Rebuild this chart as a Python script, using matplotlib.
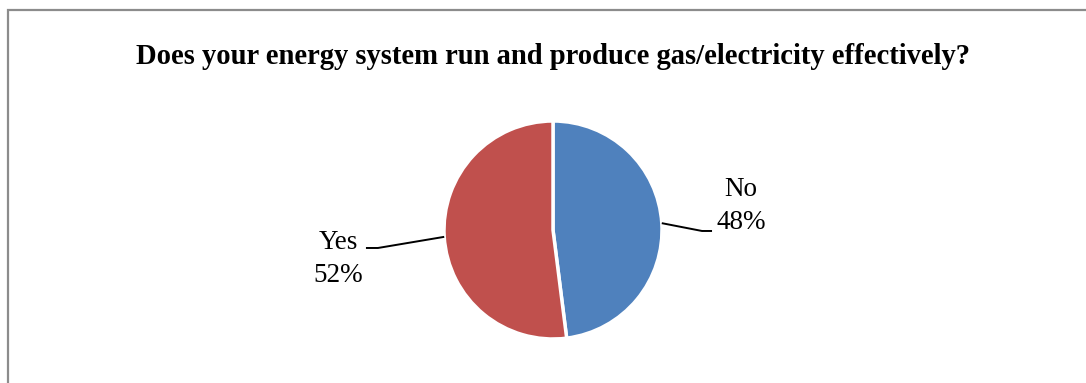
import numpy as np
import matplotlib.pyplot as plt
from matplotlib.patches import Rectangle

# survey answers
labels = ["No", "Yes"]
shares = [48, 52]
colors = ["#4F81BD", "#C0504D"]
title = "Does your energy system run and produce gas/electricity effectively?"

W, H = 1086, 383
plt.rcParams['font.family'] = ['Liberation Serif', 'DejaVu Serif']

fig = plt.figure(figsize=(W / 100, H / 100), dpi=100)

# chart frame, runs off the right and bottom edges
fig.patches.append(Rectangle((7.5 / W, -0.05), 1.1, 1 - 10.5 / H + 0.05,
                             transform=fig.transFigure, fill=False,
                             edgecolor="#8c8c8c", linewidth=1.6))

fig.text(553 / W, 1 - 56 / H, title, ha="center", va="center",
         fontsize=20.6, fontweight="bold")

# pie: centre (553, 230) px, radius 109 px
cx, cy, r = 553, 230, 109
ax = fig.add_axes([(cx - r) / W, (H - cy - r) / H, 2 * r / W, 2 * r / H])
ax.pie(shares, colors=colors, startangle=90, counterclock=False,
       wedgeprops=dict(edgecolor="white", linewidth=2.5))
ax.set_xlim(-1, 1)
ax.set_ylim(-1, 1)
ax.axis("off")

# leader lines and labels
total = sum(shares)
start = 90.0
elbows = {"No": (1.367, -0.009, 1.459), "Yes": (-1.606, -0.165, -1.716)}
textpos = {"No": (1.725, 0.367, 0.073), "Yes": (-1.97, -0.119, -0.413)}
for lab, val in zip(labels, shares):
    sweep = 360.0 * val / total
    mid = np.radians(start - sweep / 2)
    start -= sweep
    x0, y0 = np.cos(mid), np.sin(mid)
    ex, ey, hx = elbows[lab]
    ax.plot([x0, ex, hx], [y0, ey, ey], color="black", lw=1.4,
            clip_on=False, solid_capstyle="butt")
    tx, ty1, ty2 = textpos[lab]
    ax.text(tx, ty1, lab, ha="center", va="center", fontsize=19.5, clip_on=False)
    ax.text(tx, ty2, f"{val}%", ha="center", va="center", fontsize=19.5, clip_on=False)

fig.savefig("out.png", dpi=100)
